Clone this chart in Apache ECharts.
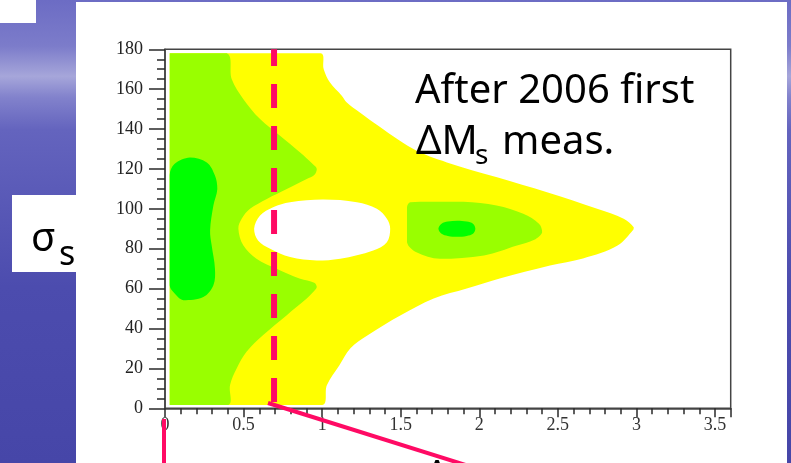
<!DOCTYPE html>
<html>
<head>
<meta charset="utf-8">
<script src="https://cdn.jsdelivr.net/npm/echarts@6/dist/echarts.min.js"></script>
<style>
  html, body { margin: 0; padding: 0; background: #ffffff; }
  #chart { width: 791px; height: 463px; }
</style>
</head>
<body>
<div id="chart"></div>
<script>
// Tick labels on the two axes
const xTickLabels = [0, 0.5, 1, 1.5, 2, 2.5, 3, 3.5];
const yTickLabels = [0, 20, 40, 60, 80, 100, 120, 140, 160, 180];

// Edges of the filled grid (x = ΔM_s, y = σ_s)
const fillLeft = 0.03;
const fillBottom = 1.7;
const fillTop = 178;

// Outer edge of the yellow band, upper half (top edge -> right tip)
const outerUpper = [
  [0.99, 178], [1.01, 170], [1.05, 163.3], [1.125, 156.7], [1.157, 153.3],
  [1.24, 148.3], [1.327, 143.3], [1.581, 130], [1.794, 123.3], [2.113, 115.8],
  [2.431, 108.3], [2.75, 100], [2.919, 95], [2.983, 90.8]
];
// Outer edge of the yellow band, lower half (right tip -> bottom edge)
const outerLower = [
  [2.98, 89.5], [2.88, 81.6], [2.66, 75.1], [2.45, 71.6], [2.13, 65.1],
  [1.92, 60.1], [1.71, 55.1], [1.50, 46.6], [1.29, 36.6], [1.18, 30.1],
  [1.11, 21.6], [1.03, 11.6], [1.0, 1.7]
];

// Excluded hole around ΔM_s ≈ 1
const holeEdge = [
  [0.567, 90], [0.605, 96.65], [0.688, 100.8], [0.796, 103.3], [1.006, 104.65],
  [1.221, 103.3], [1.348, 100], [1.412, 95], [1.433, 90], [1.412, 83.3],
  [1.325, 79.15], [1.115, 75], [0.966, 74.15], [0.796, 75.8], [0.669, 80],
  [0.592, 84.15]
];

// Right edge of the light-green region on the left (top -> bottom)
const leftGreenEdge = [
  [0.393, 178], [0.425, 165], [0.499, 155], [0.605, 145], [0.732, 136.7],
  [0.86, 128.3], [0.94, 122.5], [0.966, 120], [0.95, 117], [0.902, 115],
  [0.775, 110], [0.648, 105], [0.541, 100], [0.488, 95], [0.467, 90],
  [0.498, 81.7], [0.582, 75], [0.71, 70], [0.86, 65], [0.95, 63],
  [0.966, 60.8], [0.94, 58], [0.902, 55], [0.775, 46.7], [0.625, 36.7],
  [0.519, 28.3], [0.456, 20], [0.414, 11.7], [0.403, 1.7]
];

// Light-green island near ΔM_s ≈ 1.9
const rightGreenEdge = [
  [1.54, 100.8], [1.56, 103.3], [1.69, 103.6], [1.90, 103.6], [2.11, 101.7],
  [2.28, 97.5], [2.38, 92.5], [2.40, 88.3], [2.35, 84.5], [2.24, 81.65],
  [2.03, 76.65], [1.75, 75], [1.60, 78.3], [1.54, 83.3]
];

// Dark-green core on the left edge
const leftCoreEdge = [
  [0.03, 117], [0.06, 122.5], [0.159, 125.8], [0.266, 123.3], [0.318, 116.7],
  [0.333, 110], [0.308, 101.7], [0.287, 89.2], [0.297, 81.7], [0.318, 70],
  [0.308, 61.7], [0.244, 55.8], [0.117, 54.2], [0.053, 58.3], [0.03, 61.7]
];

// Dark-green core of the right island
const rightCoreEdge = [
  [1.74, 90], [1.76, 92.5], [1.80, 93.6], [1.86, 94], [1.92, 93.6],
  [1.96, 92.5], [1.975, 90], [1.96, 87.5], [1.92, 86.4], [1.86, 86],
  [1.80, 86.4], [1.76, 87.5]
];

// Position of the dashed cut
const cutX = 0.694;

const yellowArea = [[fillLeft, fillBottom], [fillLeft, fillTop]]
  .concat(outerUpper, outerLower);
const leftGreenArea = [[fillLeft, fillTop]]
  .concat(leftGreenEdge, [[fillLeft, fillBottom]]);

const regions = [
  { pts: yellowArea, fill: '#ffff00' },
  { pts: holeEdge, fill: '#ffffff' },
  { pts: leftGreenArea, fill: '#99ff00' },
  { pts: rightGreenEdge, fill: '#99ff00' },
  { pts: leftCoreEdge, fill: '#00ff00' },
  { pts: rightCoreEdge, fill: '#00ff00' }
];

const pink = '#ff0a64';
const tickColor = '#2a2a2a';
const labelFont = 'Liberation Serif';

const chart = echarts.init(document.getElementById('chart'), null, { renderer: 'canvas' });

chart.setOption({
  animation: false,
  backgroundColor: {
    type: 'linear', x: 0, y: 0, x2: 0, y2: 1,
    colorStops: [
      { offset: 0.00, color: '#6c6cc4' },
      { offset: 0.10, color: '#7c7cca' },
      { offset: 0.165, color: '#a6a6da' },
      { offset: 0.21, color: '#8282cc' },
      { offset: 0.28, color: '#6464be' },
      { offset: 0.45, color: '#5858b6' },
      { offset: 0.62, color: '#4c4cae' },
      { offset: 1.00, color: '#4646a8' }
    ]
  },
  grid: {
    left: 165, right: 60.3, top: 49.3, bottom: 54.7,
    show: true, borderColor: '#444', borderWidth: 1.5,
    backgroundColor: 'transparent',
    outerBoundsMode: 'none'
  },
  xAxis: {
    type: 'value', min: 0, max: 3.6, interval: 0.5,
    splitLine: { show: false },
    axisLine: { show: true, onZero: false, lineStyle: { color: '#444', width: 1.5 } },
    axisTick: { show: true, inside: false, length: 9, lineStyle: { color: tickColor, width: 1.5 } },
    minorTick: { show: true, splitNumber: 5, length: 6, lineStyle: { color: tickColor, width: 1.5 } },
    axisLabel: {
      show: true, margin: 8, fontFamily: labelFont, fontSize: 18, color: '#333',
      showMaxLabel: true, hideOverlap: false,
      formatter: v => (xTickLabels.indexOf(v) >= 0 ? String(v) : '')
    }
  },
  yAxis: {
    type: 'value', min: 0, max: 180, interval: 20,
    splitLine: { show: false },
    axisLine: { show: true, onZero: false, lineStyle: { color: '#444', width: 1.5 } },
    axisTick: { show: true, inside: false, length: 16, lineStyle: { color: tickColor, width: 1.5 } },
    minorTick: { show: true, splitNumber: 4, length: 8, lineStyle: { color: tickColor, width: 1.5 } },
    axisLabel: {
      show: true, margin: 22, fontFamily: labelFont, fontSize: 18, color: '#222',
      hideOverlap: false,
      formatter: v => (yTickLabels.indexOf(v) >= 0 ? String(v) : '')
    }
  },
  series: [
    {
      type: 'custom',
      coordinateSystem: 'cartesian2d',
      silent: true,
      clip: true,
      z: 2,
      data: regions.map((r, i) => [i, i]),
      renderItem: function (params, api) {
        const r = regions[params.dataIndex];
        const pts = r.pts.map(p => api.coord(p));
        return {
          type: 'polygon',
          shape: {
            points: pts,
            smooth: 0.35,
            // keep the curve inside the outline's bounding box so straight
            // edges along the grid borders stay straight
            smoothConstraint: [pts[0], pts[0]]
          },
          style: { fill: r.fill, stroke: null, lineWidth: 0 }
        };
      }
    },
    {
      type: 'line',
      silent: true,
      z: 5,
      symbol: 'none',
      showSymbol: false,
      data: [[cutX, 0], [cutX, 180]],
      lineStyle: { color: pink, width: 6, type: [24, 18], dashOffset: 35.7 }
    }
  ],
  graphic: [
    // slide panels
    { type: 'rect', z: -10, silent: true, shape: { x: 76, y: 2, width: 711, height: 461 }, style: { fill: '#ffffff' } },
    { type: 'rect', z: -10, silent: true, shape: { x: 0, y: 0, width: 36, height: 23 }, style: { fill: '#ffffff' } },
    { type: 'rect', z: -10, silent: true, shape: { x: 12, y: 195, width: 66, height: 77 }, style: { fill: '#ffffff' } },
    // axis symbol
    { type: 'text', z: 100, silent: true, style: { x: 31, y: 239.6, text: 'σ', font: '40px "Noto Sans"', fill: '#000', textAlign: 'left', verticalAlign: 'middle' } },
    { type: 'text', z: 100, silent: true, style: { x: 59, y: 255.3, text: 's', font: '34px "Noto Sans"', fill: '#000', textAlign: 'left', verticalAlign: 'middle' } },
    // annotation
    { type: 'text', z: 100, silent: true, style: { x: 415, y: 91.9, text: 'After 2006 first', font: '40px "Noto Sans"', fill: '#000', textAlign: 'left', verticalAlign: 'middle' } },
    { type: 'text', z: 100, silent: true, style: { x: 416, y: 142.6, text: 'ΔM', font: '40px "Noto Sans"', fill: '#000', textAlign: 'left', verticalAlign: 'middle' } },
    { type: 'text', z: 100, silent: true, style: { x: 475, y: 156, text: 's', font: '28px "Noto Sans"', fill: '#000', textAlign: 'left', verticalAlign: 'middle' } },
    { type: 'text', z: 100, silent: true, style: { x: 502, y: 142.6, text: 'meas.', font: '40px "Noto Sans"', fill: '#000', textAlign: 'left', verticalAlign: 'middle' } },
    // pointer lines below the plot
    { type: 'line', z: 100, silent: true, shape: { x1: 164, y1: 419, x2: 164, y2: 470 }, style: { stroke: pink, lineWidth: 4 } },
    { type: 'line', z: 100, silent: true, shape: { x1: 268, y1: 403, x2: 480, y2: 469.5 }, style: { stroke: pink, lineWidth: 4 } },
    { type: 'text', z: 100, silent: true, style: { x: 437, y: 477.5, text: 'Δ', font: '40px "Noto Sans"', fill: '#000', textAlign: 'center', verticalAlign: 'middle' } }
  ]
});
</script>
</body>
</html>
